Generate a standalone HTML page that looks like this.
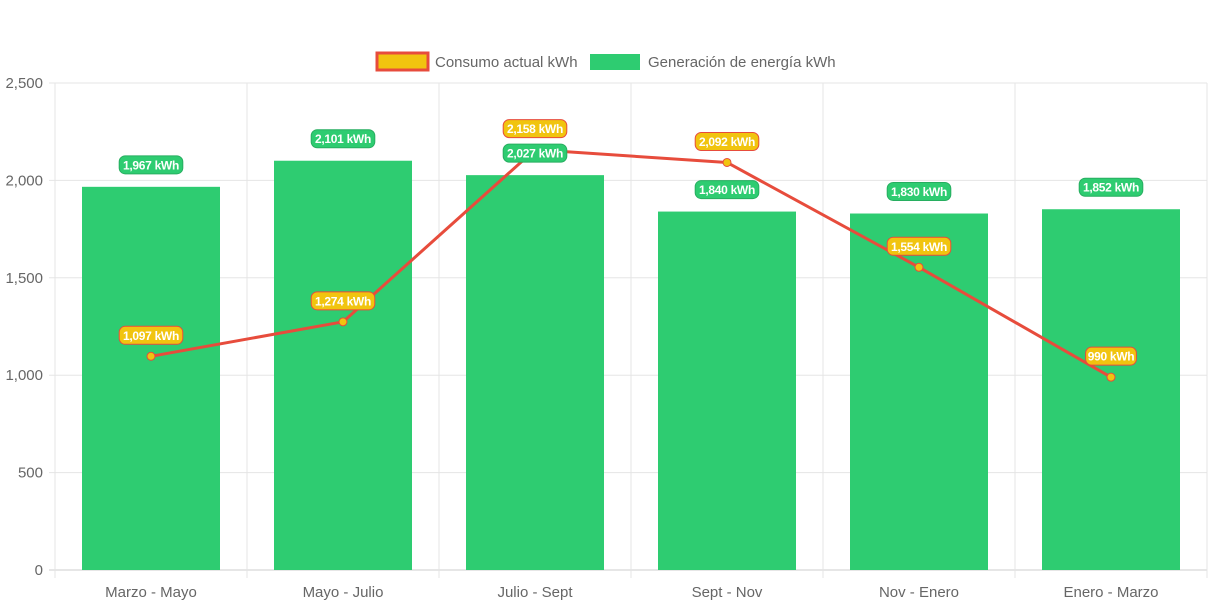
<!DOCTYPE html>
<html><head><meta charset="utf-8"><style>
body{margin:0;background:#fff;font-family:"Liberation Sans",Arial,sans-serif}
svg{display:block}
</style></head><body>
<svg id="c" width="1213" height="606">
<g>
<g>
<rect x="377" y="53" width="51" height="17" fill="#f1c40f" stroke="#e74c3c" stroke-width="3"/>
<text x="435" y="67" font-size="15" fill="#666">Consumo actual kWh</text></g>
<g>
<rect x="590" y="54" width="50" height="16" fill="#2ecc71"/>
<text x="648" y="67" font-size="15" fill="#666">Generación de energía kWh</text></g>
</g>
<g id="grid"></g>
<g id="bars"></g>
<g id="line"></g>
<g id="labels"></g>
</svg>
<script>
const categories=["Marzo - Mayo","Mayo - Julio","Julio - Sept","Sept - Nov","Nov - Enero","Enero - Marzo"];
const generacion=[1967,2101,2027,1840,1830,1852];
const consumo=[1097,1274,2158,2092,1554,990];
const yTicks=[0,500,1000,1500,2000,2500];
const L=55,R=1207,T=83,B=570,YMAX=2500;
const cw=(R-L)/categories.length;
const y=v=>B-(v/YMAX)*(B-T);
const xc=i=>L+cw*(i+0.5);
const NS="http://www.w3.org/2000/svg";
function mk(tag,attrs,parent){const e=document.createElementNS(NS,tag);for(const k in attrs)e.setAttribute(k,attrs[k]);parent.appendChild(e);return e;}
const grid=document.getElementById('grid'),bars=document.getElementById('bars'),line=document.getElementById('line'),labels=document.getElementById('labels');
yTicks.forEach(t=>{
 const g=mk('line',{x1:L-6,x2:R,y1:y(t),y2:y(t),stroke:t===0?'#ccc':'#e5e5e5','stroke-width':1},grid);
 
 
 const tx=mk('text',{x:L-12,y:y(t)+5,'text-anchor':'end','font-size':15,fill:'#666'},grid);
 tx.textContent=t.toLocaleString('en-US');
 
 
});
for(let i=0;i<=categories.length;i++){
 const v=mk('line',{x1:L+cw*i,x2:L+cw*i,y1:T,y2:B+8,stroke:'#e5e5e5'},grid);
 
 
}
categories.forEach((c,i)=>{
 const t=mk('text',{x:xc(i),y:597,'text-anchor':'middle','font-size':15,fill:'#666'},grid);
 t.textContent=c;
 
 
 const bw=138;
 const b=mk('rect',{x:xc(i)-bw/2,y:y(generacion[i]),width:bw,height:B-y(generacion[i]),fill:'#2ecc71'},bars);
 
 
});
const pts=consumo.map((v,i)=>xc(i)+','+y(v)).join(' ');
const pl=mk('polyline',{points:pts,fill:'none',stroke:'#e74c3c','stroke-width':3,'stroke-linejoin':'round'},line);


consumo.forEach((v,i)=>{
 const p=mk('circle',{cx:xc(i),cy:y(v),r:4,fill:'#f1c40f',stroke:'#e74c3c','stroke-width':1},line);
 
 
});
function label(cx,cy,txt,fill,stroke,name){
 const g=mk('g',{},labels);
 
 
 const w=txt.length*6.4+6;
 mk('rect',{x:cx-w/2,y:cy-9,width:w,height:18,rx:6,fill:fill,stroke:stroke,'stroke-width':1},g);
 const t=mk('text',{x:cx,y:cy+4.5,'text-anchor':'middle','font-size':12,'font-weight':'bold',fill:'#fff','letter-spacing':'-0.3'},g);
 t.textContent=txt;
}
generacion.forEach((v,i)=>label(xc(i),y(v)-22,v.toLocaleString('en-US')+' kWh','#2ecc71','#27ae60','label-generacion'));
consumo.forEach((v,i)=>label(xc(i),y(v)-21,v.toLocaleString('en-US')+' kWh','#f1c40f','#e74c3c','label-consumo'));
</script>
</body></html>
